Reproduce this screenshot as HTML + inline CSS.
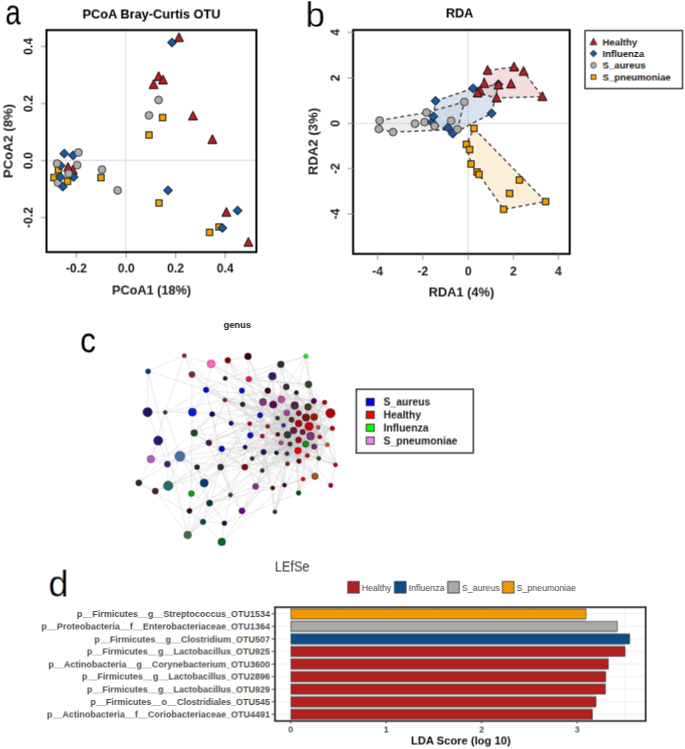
<!DOCTYPE html>
<html><head><meta charset="utf-8"><style>
html,body{margin:0;padding:0;background:#fff;}
svg{display:block;font-family:"Liberation Sans", sans-serif;}
</style></head><body>
<svg width="685" height="749" viewBox="0 0 685 749" font-family='"Liberation Sans", sans-serif'>
<g id="c" transform="translate(-0.42,-0.42)">
<rect x="-2" y="-2" width="689" height="753" fill="#fff"/>
<text transform="translate(5.3,24.25) scale(0.80,1)" font-size="34.5" fill="#000">a</text>
<text x="151.5" y="18.3" font-size="12.8" font-weight="bold" text-anchor="middle" textLength="138" lengthAdjust="spacingAndGlyphs">PCoA Bray-Curtis OTU</text>
<line x1="125.7" y1="30" x2="125.7" y2="252" stroke="#e6e6e6" stroke-width="1.3"/>
<line x1="47" y1="160.4" x2="256" y2="160.4" stroke="#d8d8d8" stroke-width="1.2"/>
<line x1="76.4" y1="252" x2="76.4" y2="258" stroke="#888" stroke-width="0.9"/>
<text x="76.4" y="272.6" font-size="12.2" font-weight="bold" text-anchor="middle" fill="#222">-0.2</text>
<line x1="126.2" y1="252" x2="126.2" y2="258" stroke="#888" stroke-width="0.9"/>
<text x="126.2" y="272.6" font-size="12.2" font-weight="bold" text-anchor="middle" fill="#222">0.0</text>
<line x1="175.6" y1="252" x2="175.6" y2="258" stroke="#888" stroke-width="0.9"/>
<text x="175.6" y="272.6" font-size="12.2" font-weight="bold" text-anchor="middle" fill="#222">0.2</text>
<line x1="225.2" y1="252" x2="225.2" y2="258" stroke="#888" stroke-width="0.9"/>
<text x="225.2" y="272.6" font-size="12.2" font-weight="bold" text-anchor="middle" fill="#222">0.4</text>
<line x1="41" y1="46.4" x2="47" y2="46.4" stroke="#888" stroke-width="0.9"/>
<text transform="translate(32.9,46.4) rotate(-90)" font-size="12.2" font-weight="bold" text-anchor="middle" fill="#222">0.4</text>
<line x1="41" y1="103.6" x2="47" y2="103.6" stroke="#888" stroke-width="0.9"/>
<text transform="translate(32.9,103.6) rotate(-90)" font-size="12.2" font-weight="bold" text-anchor="middle" fill="#222">0.2</text>
<line x1="41" y1="160.6" x2="47" y2="160.6" stroke="#888" stroke-width="0.9"/>
<text transform="translate(32.9,160.6) rotate(-90)" font-size="12.2" font-weight="bold" text-anchor="middle" fill="#222">0.0</text>
<line x1="41" y1="217.6" x2="47" y2="217.6" stroke="#888" stroke-width="0.9"/>
<text transform="translate(32.9,217.6) rotate(-90)" font-size="12.2" font-weight="bold" text-anchor="middle" fill="#222">-0.2</text>
<text x="151.5" y="294.5" font-size="12.7" font-weight="bold" text-anchor="middle" textLength="79" lengthAdjust="spacingAndGlyphs" fill="#222">PCoA1 (18%)</text>
<text transform="translate(12.2,141) rotate(-90)" font-size="12.7" font-weight="bold" text-anchor="middle" textLength="74" lengthAdjust="spacingAndGlyphs" fill="#222">PCoA2 (8%)</text>
<rect x="55.25" y="166.65" width="6.30" height="6.30" fill="#f5a300" stroke="#151515" stroke-width="1.0"/>
<polygon points="60.60,161.20 65.10,165.70 60.60,170.20 56.10,165.70" fill="#1a5aa2" stroke="#151515" stroke-width="1.0" stroke-linejoin="round"/>
<circle cx="57.10" cy="163.50" r="3.85" fill="#adadad" stroke="#3a3a3a" stroke-width="1.0"/>
<rect x="50.85" y="174.45" width="6.30" height="6.30" fill="#f5a300" stroke="#151515" stroke-width="1.0"/>
<circle cx="58.00" cy="182.70" r="3.85" fill="#adadad" stroke="#3a3a3a" stroke-width="1.0"/>
<polygon points="60.20,172.50 64.70,177.00 60.20,181.50 55.70,177.00" fill="#1a5aa2" stroke="#151515" stroke-width="1.0" stroke-linejoin="round"/>
<polygon points="68.35,174.05 77.25,174.05 72.80,165.20" fill="#bb2025" stroke="#151515" stroke-width="1.0" stroke-linejoin="round"/>
<polygon points="63.55,171.25 72.45,171.25 68.00,162.40" fill="#bb2025" stroke="#151515" stroke-width="1.0" stroke-linejoin="round"/>
<polygon points="73.70,172.50 78.20,177.00 73.70,181.50 69.20,177.00" fill="#1a5aa2" stroke="#151515" stroke-width="1.0" stroke-linejoin="round"/>
<circle cx="68.70" cy="173.60" r="3.85" fill="#adadad" stroke="#3a3a3a" stroke-width="1.0"/>
<circle cx="77.20" cy="165.10" r="3.85" fill="#adadad" stroke="#3a3a3a" stroke-width="1.0"/>
<rect x="64.35" y="178.25" width="6.30" height="6.30" fill="#f5a300" stroke="#151515" stroke-width="1.0"/>
<polygon points="62.80,182.20 67.30,186.70 62.80,191.20 58.30,186.70" fill="#1a5aa2" stroke="#151515" stroke-width="1.0" stroke-linejoin="round"/>
<polygon points="64.30,149.10 68.80,153.60 64.30,158.10 59.80,153.60" fill="#1a5aa2" stroke="#151515" stroke-width="1.0" stroke-linejoin="round"/>
<polygon points="73.10,150.90 77.60,155.40 73.10,159.90 68.60,155.40" fill="#1a5aa2" stroke="#151515" stroke-width="1.0" stroke-linejoin="round"/>
<circle cx="78.40" cy="152.50" r="3.85" fill="#adadad" stroke="#3a3a3a" stroke-width="1.0"/>
<circle cx="102.00" cy="169.60" r="3.85" fill="#adadad" stroke="#3a3a3a" stroke-width="1.0"/>
<rect x="97.85" y="174.45" width="6.30" height="6.30" fill="#f5a300" stroke="#151515" stroke-width="1.0"/>
<circle cx="117.60" cy="190.40" r="3.85" fill="#adadad" stroke="#3a3a3a" stroke-width="1.0"/>
<polygon points="149.15,88.55 158.05,88.55 153.60,79.70" fill="#bb2025" stroke="#151515" stroke-width="1.0" stroke-linejoin="round"/>
<polygon points="154.15,80.55 163.05,80.55 158.60,71.70" fill="#bb2025" stroke="#151515" stroke-width="1.0" stroke-linejoin="round"/>
<polygon points="158.55,83.95 167.45,83.95 163.00,75.10" fill="#bb2025" stroke="#151515" stroke-width="1.0" stroke-linejoin="round"/>
<circle cx="158.60" cy="100.00" r="3.85" fill="#adadad" stroke="#3a3a3a" stroke-width="1.0"/>
<circle cx="149.00" cy="115.40" r="3.85" fill="#adadad" stroke="#3a3a3a" stroke-width="1.0"/>
<rect x="159.45" y="114.45" width="6.30" height="6.30" fill="#f5a300" stroke="#151515" stroke-width="1.0"/>
<polygon points="188.55,119.95 197.45,119.95 193.00,111.10" fill="#bb2025" stroke="#151515" stroke-width="1.0" stroke-linejoin="round"/>
<rect x="145.85" y="131.85" width="6.30" height="6.30" fill="#f5a300" stroke="#151515" stroke-width="1.0"/>
<polygon points="207.95,143.55 216.85,143.55 212.40,134.70" fill="#bb2025" stroke="#151515" stroke-width="1.0" stroke-linejoin="round"/>
<polygon points="172.00,38.10 176.50,42.60 172.00,47.10 167.50,42.60" fill="#1a5aa2" stroke="#151515" stroke-width="1.0" stroke-linejoin="round"/>
<polygon points="174.55,41.55 183.45,41.55 179.00,32.70" fill="#bb2025" stroke="#151515" stroke-width="1.0" stroke-linejoin="round"/>
<polygon points="168.00,185.90 172.50,190.40 168.00,194.90 163.50,190.40" fill="#1a5aa2" stroke="#151515" stroke-width="1.0" stroke-linejoin="round"/>
<rect x="155.85" y="199.85" width="6.30" height="6.30" fill="#f5a300" stroke="#151515" stroke-width="1.0"/>
<polygon points="221.95,216.35 230.85,216.35 226.40,207.50" fill="#bb2025" stroke="#151515" stroke-width="1.0" stroke-linejoin="round"/>
<polygon points="237.60,206.10 242.10,210.60 237.60,215.10 233.10,210.60" fill="#1a5aa2" stroke="#151515" stroke-width="1.0" stroke-linejoin="round"/>
<rect x="215.85" y="223.85" width="6.30" height="6.30" fill="#f5a300" stroke="#151515" stroke-width="1.0"/>
<polygon points="222.40,223.50 226.90,228.00 222.40,232.50 217.90,228.00" fill="#1a5aa2" stroke="#151515" stroke-width="1.0" stroke-linejoin="round"/>
<rect x="206.45" y="229.25" width="6.30" height="6.30" fill="#f5a300" stroke="#151515" stroke-width="1.0"/>
<polygon points="243.95,246.35 252.85,246.35 248.40,237.50" fill="#bb2025" stroke="#151515" stroke-width="1.0" stroke-linejoin="round"/>
<rect x="46.5" y="30.1" width="209.9" height="222" fill="none" stroke="#000" stroke-width="2"/>
<text x="305.5" y="27" font-size="35" fill="#000" stroke="#fff" stroke-width="0.3">b</text>
<text x="459.6" y="17.6" font-size="12.8" font-weight="bold" text-anchor="middle" textLength="27.5" lengthAdjust="spacingAndGlyphs">RDA</text>
<polygon points="379.6,120.5 426.5,112.5 464.3,102 457.5,129.3 393,132.1 378.8,129" fill="#d0d0d0" fill-opacity="0.35" stroke="none"/>
<polygon points="435.5,100.9 473,88.4 498.4,84.4 491.6,113.4 452.7,133.7 431.8,122.1 433.4,116.5" fill="#a9c1d9" fill-opacity="0.45" stroke="none"/>
<polygon points="487.6,70.4 514,67 523.6,71.4 542.4,96.6 496.6,98 477.6,93" fill="#e4b4b4" fill-opacity="0.45" stroke="none"/>
<polygon points="474,128.4 545.6,201.6 503.6,209.4 479,174.4 471,164 466.4,144.4" fill="#f8dcaa" fill-opacity="0.45" stroke="none"/>
<line x1="468.2" y1="30" x2="468.2" y2="253.5" stroke="#999" stroke-width="0.8" stroke-dasharray="1,1.2"/>
<line x1="353.5" y1="123.5" x2="570" y2="123.5" stroke="#999" stroke-width="0.8" stroke-dasharray="1,1.2"/>
<polyline points="379.6,120.5 426.5,112.5 464.3,102 457.5,129.3 393,132.1 378.8,129 379.6,120.5" fill="none" stroke="#3a3a3a" stroke-width="1.3" stroke-dasharray="4,3"/>
<polyline points="435.5,100.9 473,88.4 498.4,84.4 491.6,113.4 452.7,133.7 431.8,122.1 433.4,116.5 435.5,100.9" fill="none" stroke="#3a3a3a" stroke-width="1.3" stroke-dasharray="4,3"/>
<polyline points="487.6,70.4 514,67 523.6,71.4 542.4,96.6 496.6,98 477.6,93 487.6,70.4" fill="none" stroke="#3a3a3a" stroke-width="1.3" stroke-dasharray="4,3"/>
<polyline points="474,128.4 545.6,201.6 503.6,209.4 479,174.4 471,164 466.4,144.4 474,128.4" fill="none" stroke="#3a3a3a" stroke-width="1.3" stroke-dasharray="4,3"/>
<circle cx="379.60" cy="120.50" r="3.85" fill="#adadad" stroke="#3a3a3a" stroke-width="1.0"/>
<circle cx="378.80" cy="129.00" r="3.85" fill="#adadad" stroke="#3a3a3a" stroke-width="1.0"/>
<circle cx="393.00" cy="132.10" r="3.85" fill="#adadad" stroke="#3a3a3a" stroke-width="1.0"/>
<circle cx="415.00" cy="123.70" r="3.85" fill="#adadad" stroke="#3a3a3a" stroke-width="1.0"/>
<circle cx="424.60" cy="122.10" r="3.85" fill="#adadad" stroke="#3a3a3a" stroke-width="1.0"/>
<circle cx="426.50" cy="112.50" r="3.85" fill="#adadad" stroke="#3a3a3a" stroke-width="1.0"/>
<polygon points="431.80,117.60 436.30,122.10 431.80,126.60 427.30,122.10" fill="#1a5aa2" stroke="#151515" stroke-width="1.0" stroke-linejoin="round"/>
<polygon points="433.40,112.00 437.90,116.50 433.40,121.00 428.90,116.50" fill="#1a5aa2" stroke="#151515" stroke-width="1.0" stroke-linejoin="round"/>
<circle cx="434.60" cy="126.10" r="3.85" fill="#adadad" stroke="#3a3a3a" stroke-width="1.0"/>
<polygon points="435.50,96.40 440.00,100.90 435.50,105.40 431.00,100.90" fill="#1a5aa2" stroke="#151515" stroke-width="1.0" stroke-linejoin="round"/>
<polygon points="447.90,123.20 452.40,127.70 447.90,132.20 443.40,127.70" fill="#1a5aa2" stroke="#151515" stroke-width="1.0" stroke-linejoin="round"/>
<polygon points="452.70,129.20 457.20,133.70 452.70,138.20 448.20,133.70" fill="#1a5aa2" stroke="#151515" stroke-width="1.0" stroke-linejoin="round"/>
<circle cx="451.10" cy="120.80" r="3.85" fill="#adadad" stroke="#3a3a3a" stroke-width="1.0"/>
<circle cx="457.50" cy="129.30" r="3.85" fill="#adadad" stroke="#3a3a3a" stroke-width="1.0"/>
<circle cx="464.30" cy="102.00" r="3.85" fill="#adadad" stroke="#3a3a3a" stroke-width="1.0"/>
<polygon points="473.00,83.90 477.50,88.40 473.00,92.90 468.50,88.40" fill="#1a5aa2" stroke="#151515" stroke-width="1.0" stroke-linejoin="round"/>
<polygon points="491.60,108.90 496.10,113.40 491.60,117.90 487.10,113.40" fill="#1a5aa2" stroke="#151515" stroke-width="1.0" stroke-linejoin="round"/>
<polygon points="498.40,79.90 502.90,84.40 498.40,88.90 493.90,84.40" fill="#1a5aa2" stroke="#151515" stroke-width="1.0" stroke-linejoin="round"/>
<polygon points="483.15,74.35 492.05,74.35 487.60,65.50" fill="#bb2025" stroke="#151515" stroke-width="1.0" stroke-linejoin="round"/>
<polygon points="509.55,70.95 518.45,70.95 514.00,62.10" fill="#bb2025" stroke="#151515" stroke-width="1.0" stroke-linejoin="round"/>
<polygon points="519.15,75.35 528.05,75.35 523.60,66.50" fill="#bb2025" stroke="#151515" stroke-width="1.0" stroke-linejoin="round"/>
<polygon points="479.95,87.55 488.85,87.55 484.40,78.70" fill="#bb2025" stroke="#151515" stroke-width="1.0" stroke-linejoin="round"/>
<polygon points="493.95,88.95 502.85,88.95 498.40,80.10" fill="#bb2025" stroke="#151515" stroke-width="1.0" stroke-linejoin="round"/>
<polygon points="506.55,87.95 515.45,87.95 511.00,79.10" fill="#bb2025" stroke="#151515" stroke-width="1.0" stroke-linejoin="round"/>
<polygon points="475.55,94.95 484.45,94.95 480.00,86.10" fill="#bb2025" stroke="#151515" stroke-width="1.0" stroke-linejoin="round"/>
<polygon points="473.15,96.95 482.05,96.95 477.60,88.10" fill="#bb2025" stroke="#151515" stroke-width="1.0" stroke-linejoin="round"/>
<polygon points="492.15,101.95 501.05,101.95 496.60,93.10" fill="#bb2025" stroke="#151515" stroke-width="1.0" stroke-linejoin="round"/>
<polygon points="537.95,100.55 546.85,100.55 542.40,91.70" fill="#bb2025" stroke="#151515" stroke-width="1.0" stroke-linejoin="round"/>
<rect x="470.85" y="125.25" width="6.30" height="6.30" fill="#f5a300" stroke="#151515" stroke-width="1.0"/>
<rect x="463.25" y="141.25" width="6.30" height="6.30" fill="#f5a300" stroke="#151515" stroke-width="1.0"/>
<rect x="466.45" y="146.45" width="6.30" height="6.30" fill="#f5a300" stroke="#151515" stroke-width="1.0"/>
<rect x="467.85" y="160.85" width="6.30" height="6.30" fill="#f5a300" stroke="#151515" stroke-width="1.0"/>
<rect x="473.85" y="168.85" width="6.30" height="6.30" fill="#f5a300" stroke="#151515" stroke-width="1.0"/>
<rect x="475.85" y="171.25" width="6.30" height="6.30" fill="#f5a300" stroke="#151515" stroke-width="1.0"/>
<rect x="516.25" y="176.85" width="6.30" height="6.30" fill="#f5a300" stroke="#151515" stroke-width="1.0"/>
<rect x="506.45" y="190.25" width="6.30" height="6.30" fill="#f5a300" stroke="#151515" stroke-width="1.0"/>
<rect x="542.45" y="198.45" width="6.30" height="6.30" fill="#f5a300" stroke="#151515" stroke-width="1.0"/>
<rect x="500.45" y="206.25" width="6.30" height="6.30" fill="#f5a300" stroke="#151515" stroke-width="1.0"/>
<rect x="353.1" y="30" width="216.6" height="223.9" fill="none" stroke="#000" stroke-width="2"/>
<line x1="377.6" y1="254" x2="377.6" y2="259.6" stroke="#888" stroke-width="0.9"/>
<text x="377.6" y="275.1" font-size="12.2" font-weight="bold" text-anchor="middle" fill="#222">-4</text>
<line x1="422.8" y1="254" x2="422.8" y2="259.6" stroke="#888" stroke-width="0.9"/>
<text x="422.8" y="275.1" font-size="12.2" font-weight="bold" text-anchor="middle" fill="#222">-2</text>
<line x1="468.2" y1="254" x2="468.2" y2="259.6" stroke="#888" stroke-width="0.9"/>
<text x="468.2" y="275.1" font-size="12.2" font-weight="bold" text-anchor="middle" fill="#222">0</text>
<line x1="513.4" y1="254" x2="513.4" y2="259.6" stroke="#888" stroke-width="0.9"/>
<text x="513.4" y="275.1" font-size="12.2" font-weight="bold" text-anchor="middle" fill="#222">2</text>
<line x1="558.4" y1="254" x2="558.4" y2="259.6" stroke="#888" stroke-width="0.9"/>
<text x="558.4" y="275.1" font-size="12.2" font-weight="bold" text-anchor="middle" fill="#222">4</text>
<line x1="347.5" y1="32.4" x2="353.5" y2="32.4" stroke="#888" stroke-width="0.9"/>
<text transform="translate(339.6,32.4) rotate(-90)" font-size="12.2" font-weight="bold" text-anchor="middle" fill="#222">4</text>
<line x1="347.5" y1="78" x2="353.5" y2="78" stroke="#888" stroke-width="0.9"/>
<text transform="translate(339.6,78) rotate(-90)" font-size="12.2" font-weight="bold" text-anchor="middle" fill="#222">2</text>
<line x1="347.5" y1="123.4" x2="353.5" y2="123.4" stroke="#888" stroke-width="0.9"/>
<text transform="translate(339.6,123.4) rotate(-90)" font-size="12.2" font-weight="bold" text-anchor="middle" fill="#222">0</text>
<line x1="347.5" y1="168.6" x2="353.5" y2="168.6" stroke="#888" stroke-width="0.9"/>
<text transform="translate(339.6,168.6) rotate(-90)" font-size="12.2" font-weight="bold" text-anchor="middle" fill="#222">-2</text>
<line x1="347.5" y1="214" x2="353.5" y2="214" stroke="#888" stroke-width="0.9"/>
<text transform="translate(339.6,214) rotate(-90)" font-size="12.2" font-weight="bold" text-anchor="middle" fill="#222">-4</text>
<text x="461.4" y="296.6" font-size="12.9" font-weight="bold" text-anchor="middle" textLength="65.7" lengthAdjust="spacingAndGlyphs" fill="#222">RDA1 (4%)</text>
<text transform="translate(317.8,141.5) rotate(-90)" font-size="13.6" font-weight="bold" text-anchor="middle" textLength="67.3" lengthAdjust="spacingAndGlyphs" fill="#222">RDA2 (3%)</text>
<rect x="585" y="30.6" width="97.5" height="58" fill="#fff" stroke="#333" stroke-width="1.4"/>
<polygon points="590.16,44.76 596.84,44.76 593.50,38.12" fill="#bb2025" stroke="#151515" stroke-width="0.7" stroke-linejoin="round"/>
<text x="602.5" y="45.30" font-size="9.6" font-weight="bold" fill="#222">Healthy</text>
<polygon points="593.50,50.17 596.88,53.55 593.50,56.92 590.12,53.55" fill="#1a5aa2" stroke="#151515" stroke-width="0.7" stroke-linejoin="round"/>
<text x="602.5" y="57.05" font-size="9.6" font-weight="bold" fill="#222">Influenza</text>
<circle cx="593.50" cy="65.30" r="2.89" fill="#adadad" stroke="#3a3a3a" stroke-width="0.7"/>
<text x="602.5" y="68.80" font-size="9.6" font-weight="bold" fill="#222">S_aureus</text>
<rect x="591.14" y="74.69" width="4.72" height="4.72" fill="#f5a300" stroke="#151515" stroke-width="0.7"/>
<text x="602.5" y="80.55" font-size="9.6" font-weight="bold" fill="#222">S_pneumoniae</text>
<text transform="translate(80.2,352.2) scale(0.90,1)" font-size="35" fill="#000">c</text>
<text x="237.3" y="328" font-size="9.2" font-weight="bold" text-anchor="middle" textLength="27.5" lengthAdjust="spacingAndGlyphs" fill="#222">genus</text>
<path d="M184.3 355.7L148.1 371.3M184.3 355.7L211.1 363.9M184.3 355.7L192.0 374.5M184.3 355.7L224.9 400.0M184.3 355.7L165.2 412.4M148.1 371.3L206.1 389.9M148.1 371.3L147.6 412.2M148.1 371.3L187.7 535.0M211.1 363.9L227.8 360.3M211.1 363.9L225.2 378.3M211.1 363.9L206.1 389.9M211.1 363.9L298.8 413.2M211.1 363.9L306.0 417.5M227.8 360.3L225.2 378.3M227.8 360.3L248.0 356.4M227.8 360.3L248.8 379.1M227.8 360.3L241.9 390.6M227.8 360.3L287.0 453.6M227.8 360.3L307.4 455.7M192.0 374.5L206.1 389.9M192.0 374.5L224.9 400.0M192.0 374.5L191.4 493.6M192.0 374.5L241.9 390.6M192.0 374.5L307.4 455.7M225.2 378.3L165.2 412.4M225.2 378.3L192.4 412.2M225.2 378.3L305.9 356.2M225.2 378.3L308.5 384.4M225.2 378.3L277.5 418.1M225.2 378.3L281.0 442.8M225.2 378.3L231.1 423.3M206.1 389.9L224.9 400.0M206.1 389.9L192.4 412.2M206.1 389.9L212.2 414.1M206.1 389.9L313.9 401.0M206.1 389.9L291.6 419.7M206.1 389.9L267.7 426.4M224.9 400.0L212.2 414.1M224.9 400.0L208.9 442.8M224.9 400.0L242.6 404.4M224.9 400.0L281.4 399.4M224.9 400.0L286.8 412.9M224.9 400.0L277.5 418.1M224.9 400.0L309.1 426.4M224.9 400.0L298.5 440.0M224.9 400.0L307.4 455.7M224.9 400.0L255.6 486.5M147.6 412.2L165.2 412.4M147.6 412.2L158.2 440.6M165.2 412.4L192.4 412.2M165.2 412.4L150.9 459.1M165.2 412.4L179.9 456.3M165.2 412.4L286.3 386.8M192.4 412.2L212.2 414.1M192.4 412.2L194.2 433.0M192.4 412.2L242.0 510.9M212.2 414.1L194.2 433.0M212.2 414.1L220.6 467.2M212.2 414.1L138.8 482.9M212.2 414.1L273.2 404.6M212.2 414.1L314.2 417.0M212.2 414.1L281.0 442.8M212.2 414.1L314.2 446.7M212.2 414.1L231.1 423.3M212.2 414.1L230.5 495.0M194.2 433.0L208.9 442.8M194.2 433.0L241.9 390.6M194.2 433.0L273.2 404.6M194.2 433.0L314.2 446.7M194.2 433.0L244.8 467.2M194.2 433.0L272.7 488.0M158.2 440.6L150.9 459.1M158.2 440.6L167.4 464.2M208.9 442.8L221.8 448.8M208.9 442.8L294.7 405.5M208.9 442.8L327.4 444.8M221.8 448.8L220.6 467.2M221.8 448.8L191.4 493.6M221.8 448.8L260.1 415.2M221.8 448.8L287.0 453.6M221.8 448.8L315.0 476.3M221.8 448.8L245.1 447.1M221.8 448.8L244.8 467.2M150.9 459.1L167.4 464.2M150.9 459.1L138.8 482.9M150.9 459.1L298.8 413.2M150.9 459.1L244.8 467.2M179.9 456.3L167.4 464.2M179.9 456.3L197.1 467.1M179.9 456.3L138.8 482.9M179.9 456.3L168.2 485.8M179.9 456.3L224.4 523.3M179.9 456.3L296.4 392.6M179.9 456.3L294.7 405.5M179.9 456.3L245.1 447.1M179.9 456.3L230.5 495.0M167.4 464.2L168.2 485.8M167.4 464.2L191.4 493.6M167.4 464.2L281.0 442.8M197.1 467.1L168.2 485.8M197.1 467.1L204.2 483.0M197.1 467.1L209.6 503.1M197.1 467.1L277.5 418.1M220.6 467.2L204.2 483.0M220.6 467.2L209.6 503.1M220.6 467.2L187.7 535.0M220.6 467.2L280.8 364.4M220.6 467.2L319.8 436.9M220.6 467.2L318.8 458.4M220.6 467.2L262.3 436.1M220.6 467.2L230.5 495.0M138.8 482.9L155.3 491.1M138.8 482.9L203.0 521.9M168.2 485.8L155.3 491.1M168.2 485.8L306.0 417.5M168.2 485.8L244.8 467.2M204.2 483.0L191.4 493.6M204.2 483.0L298.8 413.2M155.3 491.1L187.7 535.0M155.3 491.1L309.1 426.4M191.4 493.6L209.6 503.1M191.4 493.6L189.5 510.9M209.6 503.1L203.0 521.9M209.6 503.1L187.7 535.0M209.6 503.1L277.8 434.3M209.6 503.1L230.5 495.0M209.6 503.1L272.7 488.0M189.5 510.9L203.0 521.9M189.5 510.9L187.7 535.0M189.5 510.9L287.0 453.6M189.5 510.9L249.7 423.7M189.5 510.9L255.6 486.5M203.0 521.9L224.4 523.3M203.0 521.9L187.7 535.0M203.0 521.9L221.8 541.9M203.0 521.9L302.7 432.0M224.4 523.3L221.8 541.9M224.4 523.3L298.6 493.0M224.4 523.3L230.5 495.0M224.4 523.3L242.0 510.9M187.7 535.0L293.6 430.5M187.7 535.0L252.2 458.6M187.7 535.0L255.6 486.5M221.8 541.9L298.5 440.0M221.8 541.9L284.5 485.1M248.0 356.4L248.8 379.1M248.0 356.4L277.8 434.3M248.0 356.4L290.0 444.0M248.8 379.1L280.8 364.4M248.8 379.1L272.4 376.2M248.8 379.1L241.9 390.6M248.8 379.1L267.8 390.7M248.8 379.1L286.8 412.9M248.8 379.1L260.1 415.2M248.8 379.1L308.5 384.4M248.8 379.1L314.2 417.0M280.8 364.4L272.4 376.2M280.8 364.4L286.3 386.8M280.8 364.4L305.9 356.2M280.8 364.4L313.9 401.0M280.8 364.4L330.5 413.2M280.8 364.4L293.6 430.5M280.8 364.4L281.0 442.8M280.8 364.4L327.4 444.8M272.4 376.2L267.8 390.7M272.4 376.2L286.3 386.8M272.4 376.2L277.5 418.1M272.4 376.2L306.0 417.5M272.4 376.2L319.8 436.9M272.4 376.2L276.5 452.8M241.9 390.6L242.6 404.4M241.9 390.6L324.7 402.4M241.9 390.6L277.5 418.1M241.9 390.6L307.4 455.7M241.9 390.6L249.7 423.7M267.8 390.7L263.0 402.0M267.8 390.7L273.2 404.6M267.8 390.7L286.8 412.9M267.8 390.7L313.9 401.0M267.8 390.7L306.0 417.5M267.8 390.7L298.5 440.0M267.8 390.7L249.7 423.7M267.8 390.7L230.5 495.0M286.3 386.8L281.4 399.4M286.3 386.8L260.1 415.2M286.3 386.8L296.4 392.6M286.3 386.8L308.0 407.0M286.3 386.8L332.4 428.4M286.3 386.8L307.4 455.7M286.3 386.8L287.5 463.9M242.6 404.4L260.1 415.2M242.6 404.4L296.4 392.6M242.6 404.4L277.5 418.1M242.6 404.4L332.4 428.4M242.6 404.4L267.7 426.4M242.6 404.4L250.3 435.3M242.6 404.4L262.3 470.6M263.0 402.0L273.2 404.6M263.0 402.0L286.8 412.9M263.0 402.0L260.1 415.2M263.0 402.0L294.7 405.5M263.0 402.0L291.6 419.7M263.0 402.0L314.2 417.0M263.0 402.0L298.6 423.5M263.0 402.0L305.7 444.1M263.0 402.0L262.3 436.1M273.2 404.6L281.4 399.4M273.2 404.6L286.8 412.9M273.2 404.6L305.9 356.2M273.2 404.6L296.4 392.6M273.2 404.6L308.0 407.0M273.2 404.6L330.5 413.2M273.2 404.6L291.6 419.7M273.2 404.6L298.6 423.5M273.2 404.6L277.8 434.3M273.2 404.6L293.6 430.5M273.2 404.6L310.6 436.1M273.2 404.6L319.8 436.9M273.2 404.6L298.5 440.0M273.2 404.6L314.2 446.7M273.2 404.6L327.4 444.8M273.2 404.6L276.5 452.8M273.2 404.6L287.0 453.6M273.2 404.6L250.3 435.3M281.4 399.4L313.9 401.0M281.4 399.4L298.8 413.2M281.4 399.4L306.0 417.5M281.4 399.4L283.5 425.4M281.4 399.4L298.6 423.5M281.4 399.4L318.3 427.3M281.4 399.4L314.2 446.7M281.4 399.4L299.0 461.2M281.4 399.4L335.5 464.8M281.4 399.4L267.7 426.4M286.8 412.9L294.7 405.5M286.8 412.9L313.9 401.0M286.8 412.9L298.8 413.2M286.8 412.9L277.5 418.1M286.8 412.9L291.6 419.7M286.8 412.9L306.0 417.5M286.8 412.9L283.5 425.4M286.8 412.9L309.1 426.4M286.8 412.9L332.4 428.4M286.8 412.9L277.8 434.3M286.8 412.9L293.6 430.5M286.8 412.9L310.6 436.1M286.8 412.9L319.8 436.9M286.8 412.9L281.0 442.8M286.8 412.9L298.0 450.7M286.8 412.9L267.7 426.4M286.8 412.9L262.3 436.1M286.8 412.9L284.5 485.1M260.1 415.2L296.4 392.6M260.1 415.2L324.7 402.4M260.1 415.2L277.5 418.1M260.1 415.2L299.0 461.2M260.1 415.2L249.7 423.7M260.1 415.2L267.7 426.4M260.1 415.2L262.3 436.1M305.9 356.2L308.5 384.4M305.9 356.2L296.4 392.6M305.9 356.2L318.3 427.3M308.5 384.4L296.4 392.6M308.5 384.4L313.9 401.0M308.5 384.4L330.5 413.2M308.5 384.4L310.6 436.1M308.5 384.4L318.8 458.4M308.5 384.4L335.5 464.8M296.4 392.6L294.7 405.5M296.4 392.6L313.9 401.0M296.4 392.6L308.0 407.0M296.4 392.6L298.8 413.2M296.4 392.6L277.5 418.1M296.4 392.6L283.5 425.4M296.4 392.6L318.3 427.3M296.4 392.6L302.7 432.0M296.4 392.6L319.8 436.9M296.4 392.6L290.0 444.0M296.4 392.6L287.0 453.6M296.4 392.6L307.4 455.7M296.4 392.6L318.8 458.4M296.4 392.6L255.6 486.5M294.7 405.5L313.9 401.0M294.7 405.5L330.5 413.2M294.7 405.5L298.8 413.2M294.7 405.5L277.5 418.1M294.7 405.5L291.6 419.7M294.7 405.5L283.5 425.4M294.7 405.5L298.6 423.5M294.7 405.5L309.1 426.4M294.7 405.5L318.3 427.3M294.7 405.5L281.0 442.8M294.7 405.5L290.0 444.0M294.7 405.5L314.2 446.7M294.7 405.5L327.4 444.8M294.7 405.5L276.5 452.8M294.7 405.5L298.6 493.0M294.7 405.5L267.7 426.4M294.7 405.5L250.3 435.3M294.7 405.5L252.2 458.6M313.9 401.0L324.7 402.4M313.9 401.0L308.0 407.0M313.9 401.0L298.8 413.2M313.9 401.0L277.5 418.1M313.9 401.0L306.0 417.5M313.9 401.0L314.2 417.0M313.9 401.0L277.8 434.3M313.9 401.0L293.6 430.5M313.9 401.0L310.6 436.1M313.9 401.0L290.0 444.0M313.9 401.0L327.4 444.8M313.9 401.0L298.0 450.7M313.9 401.0L307.4 455.7M313.9 401.0L299.0 461.2M313.9 401.0L298.6 493.0M313.9 401.0L250.3 435.3M313.9 401.0L262.3 436.1M313.9 401.0L242.0 510.9M324.7 402.4L308.0 407.0M324.7 402.4L330.5 413.2M324.7 402.4L277.5 418.1M324.7 402.4L306.0 417.5M324.7 402.4L314.2 417.0M324.7 402.4L283.5 425.4M324.7 402.4L332.4 428.4M324.7 402.4L290.0 444.0M324.7 402.4L298.5 440.0M324.7 402.4L314.2 446.7M324.7 402.4L276.5 452.8M324.7 402.4L298.0 450.7M324.7 402.4L287.5 463.9M324.7 402.4L267.7 426.4M324.7 402.4L242.0 510.9M308.0 407.0L330.5 413.2M308.0 407.0L306.0 417.5M308.0 407.0L314.2 417.0M308.0 407.0L302.7 432.0M308.0 407.0L298.5 440.0M308.0 407.0L276.5 452.8M308.0 407.0L287.0 453.6M308.0 407.0L298.0 450.7M308.0 407.0L307.4 455.7M308.0 407.0L318.8 458.4M308.0 407.0L267.7 426.4M308.0 407.0L262.3 436.1M330.5 413.2L298.8 413.2M330.5 413.2L291.6 419.7M330.5 413.2L283.5 425.4M330.5 413.2L332.4 428.4M330.5 413.2L310.6 436.1M330.5 413.2L319.8 436.9M330.5 413.2L281.0 442.8M330.5 413.2L298.5 440.0M330.5 413.2L305.7 444.1M330.5 413.2L276.5 452.8M330.5 413.2L287.5 463.9M330.5 413.2L315.0 476.3M330.5 413.2L262.3 470.6M298.8 413.2L277.5 418.1M298.8 413.2L306.0 417.5M298.8 413.2L314.2 417.0M298.8 413.2L283.5 425.4M298.8 413.2L298.6 423.5M298.8 413.2L318.3 427.3M298.8 413.2L277.8 434.3M298.8 413.2L293.6 430.5M298.8 413.2L310.6 436.1M298.8 413.2L281.0 442.8M298.8 413.2L314.2 446.7M298.8 413.2L327.4 444.8M298.8 413.2L276.5 452.8M298.8 413.2L298.0 450.7M298.8 413.2L287.5 463.9M298.8 413.2L267.7 426.4M298.8 413.2L250.3 435.3M277.5 418.1L306.0 417.5M277.5 418.1L314.2 417.0M277.5 418.1L283.5 425.4M277.5 418.1L298.6 423.5M277.5 418.1L309.1 426.4M277.5 418.1L318.3 427.3M277.5 418.1L277.8 434.3M277.5 418.1L293.6 430.5M277.5 418.1L310.6 436.1M277.5 418.1L290.0 444.0M277.5 418.1L298.5 440.0M277.5 418.1L314.2 446.7M277.5 418.1L287.0 453.6M277.5 418.1L298.0 450.7M277.5 418.1L318.8 458.4M277.5 418.1L299.0 461.2M277.5 418.1L315.0 476.3M277.5 418.1L249.7 423.7M277.5 418.1L267.7 426.4M291.6 419.7L306.0 417.5M291.6 419.7L283.5 425.4M291.6 419.7L298.6 423.5M291.6 419.7L309.1 426.4M291.6 419.7L318.3 427.3M291.6 419.7L332.4 428.4M291.6 419.7L277.8 434.3M291.6 419.7L293.6 430.5M291.6 419.7L302.7 432.0M291.6 419.7L281.0 442.8M291.6 419.7L290.0 444.0M291.6 419.7L314.2 446.7M291.6 419.7L298.0 450.7M291.6 419.7L287.5 463.9M291.6 419.7L267.7 426.4M291.6 419.7L245.1 447.1M291.6 419.7L252.2 458.6M306.0 417.5L314.2 417.0M306.0 417.5L298.6 423.5M306.0 417.5L309.1 426.4M306.0 417.5L318.3 427.3M306.0 417.5L302.7 432.0M306.0 417.5L319.8 436.9M306.0 417.5L298.5 440.0M306.0 417.5L314.2 446.7M306.0 417.5L327.4 444.8M306.0 417.5L276.5 452.8M306.0 417.5L298.0 450.7M306.0 417.5L307.4 455.7M306.0 417.5L318.8 458.4M306.0 417.5L287.5 463.9M306.0 417.5L267.7 426.4M306.0 417.5L262.3 470.6M314.2 417.0L309.1 426.4M314.2 417.0L318.3 427.3M314.2 417.0L287.5 434.8M314.2 417.0L302.7 432.0M314.2 417.0L310.6 436.1M314.2 417.0L319.8 436.9M314.2 417.0L281.0 442.8M314.2 417.0L305.7 444.1M314.2 417.0L307.4 455.7M314.2 417.0L318.8 458.4M314.2 417.0L267.7 426.4M314.2 417.0L274.9 511.8M283.5 425.4L298.6 423.5M283.5 425.4L277.8 434.3M283.5 425.4L302.7 432.0M283.5 425.4L310.6 436.1M283.5 425.4L281.0 442.8M283.5 425.4L290.0 444.0M283.5 425.4L314.2 446.7M283.5 425.4L276.5 452.8M283.5 425.4L307.4 455.7M283.5 425.4L318.8 458.4M283.5 425.4L299.0 461.2M283.5 425.4L287.5 463.9M283.5 425.4L335.5 464.8M283.5 425.4L263.6 452.0M283.5 425.4L244.8 467.2M298.6 423.5L277.8 434.3M298.6 423.5L293.6 430.5M298.6 423.5L302.7 432.0M298.6 423.5L305.7 444.1M298.6 423.5L314.2 446.7M298.6 423.5L287.0 453.6M298.6 423.5L298.0 450.7M298.6 423.5L307.4 455.7M298.6 423.5L318.8 458.4M298.6 423.5L287.5 463.9M298.6 423.5L298.6 493.0M298.6 423.5L255.6 486.5M309.1 426.4L318.3 427.3M309.1 426.4L287.5 434.8M309.1 426.4L293.6 430.5M309.1 426.4L302.7 432.0M309.1 426.4L319.8 436.9M309.1 426.4L281.0 442.8M309.1 426.4L290.0 444.0M309.1 426.4L305.7 444.1M309.1 426.4L327.4 444.8M309.1 426.4L298.0 450.7M309.1 426.4L318.8 458.4M309.1 426.4L303.1 479.2M309.1 426.4L255.6 486.5M318.3 427.3L332.4 428.4M318.3 427.3L287.5 434.8M318.3 427.3L293.6 430.5M318.3 427.3L310.6 436.1M318.3 427.3L319.8 436.9M318.3 427.3L281.0 442.8M318.3 427.3L276.5 452.8M318.3 427.3L287.0 453.6M318.3 427.3L307.4 455.7M318.3 427.3L299.0 461.2M318.3 427.3L287.5 463.9M318.3 427.3L262.3 470.6M332.4 428.4L302.7 432.0M332.4 428.4L310.6 436.1M332.4 428.4L319.8 436.9M332.4 428.4L298.5 440.0M332.4 428.4L327.4 444.8M332.4 428.4L276.5 452.8M332.4 428.4L307.4 455.7M332.4 428.4L287.5 463.9M332.4 428.4L335.5 464.8M332.4 428.4L250.3 435.3M277.8 434.3L287.5 434.8M277.8 434.3L293.6 430.5M277.8 434.3L302.7 432.0M277.8 434.3L319.8 436.9M277.8 434.3L281.0 442.8M277.8 434.3L287.0 453.6M277.8 434.3L298.0 450.7M277.8 434.3L299.0 461.2M277.8 434.3L287.5 463.9M277.8 434.3L315.0 476.3M277.8 434.3L267.7 426.4M277.8 434.3L250.3 435.3M277.8 434.3L263.6 452.0M277.8 434.3L242.0 510.9M287.5 434.8L293.6 430.5M287.5 434.8L319.8 436.9M287.5 434.8L290.0 444.0M287.5 434.8L298.5 440.0M287.5 434.8L305.7 444.1M287.5 434.8L314.2 446.7M287.5 434.8L327.4 444.8M287.5 434.8L276.5 452.8M287.5 434.8L287.0 453.6M287.5 434.8L298.0 450.7M287.5 434.8L252.2 458.6M293.6 430.5L290.0 444.0M293.6 430.5L314.2 446.7M293.6 430.5L327.4 444.8M293.6 430.5L307.4 455.7M293.6 430.5L318.8 458.4M293.6 430.5L299.0 461.2M293.6 430.5L287.5 463.9M293.6 430.5L315.0 476.3M293.6 430.5L298.6 493.0M293.6 430.5L231.1 423.3M293.6 430.5L267.7 426.4M302.7 432.0L310.6 436.1M302.7 432.0L290.0 444.0M302.7 432.0L298.5 440.0M302.7 432.0L305.7 444.1M302.7 432.0L276.5 452.8M302.7 432.0L287.0 453.6M302.7 432.0L298.0 450.7M302.7 432.0L299.0 461.2M302.7 432.0L335.5 464.8M310.6 436.1L319.8 436.9M310.6 436.1L281.0 442.8M310.6 436.1L298.5 440.0M310.6 436.1L305.7 444.1M310.6 436.1L314.2 446.7M310.6 436.1L276.5 452.8M310.6 436.1L299.0 461.2M310.6 436.1L249.7 423.7M319.8 436.9L298.5 440.0M319.8 436.9L305.7 444.1M319.8 436.9L314.2 446.7M319.8 436.9L327.4 444.8M319.8 436.9L298.0 450.7M319.8 436.9L307.4 455.7M319.8 436.9L299.0 461.2M319.8 436.9L267.7 426.4M319.8 436.9L245.1 447.1M319.8 436.9L262.3 470.6M281.0 442.8L290.0 444.0M281.0 442.8L305.7 444.1M281.0 442.8L314.2 446.7M281.0 442.8L327.4 444.8M281.0 442.8L276.5 452.8M281.0 442.8L298.0 450.7M281.0 442.8L307.4 455.7M281.0 442.8L318.8 458.4M281.0 442.8L299.0 461.2M281.0 442.8L287.5 463.9M281.0 442.8L262.3 436.1M281.0 442.8L263.6 452.0M281.0 442.8L252.2 458.6M281.0 442.8L244.8 467.2M290.0 444.0L298.5 440.0M290.0 444.0L305.7 444.1M290.0 444.0L276.5 452.8M290.0 444.0L287.0 453.6M290.0 444.0L298.0 450.7M290.0 444.0L307.4 455.7M290.0 444.0L287.5 463.9M290.0 444.0L267.7 426.4M290.0 444.0L272.7 488.0M290.0 444.0L274.9 511.8M298.5 440.0L305.7 444.1M298.5 440.0L314.2 446.7M298.5 440.0L276.5 452.8M298.5 440.0L298.0 450.7M298.5 440.0L307.4 455.7M298.5 440.0L267.7 426.4M298.5 440.0L255.6 486.5M298.5 440.0L272.7 488.0M305.7 444.1L314.2 446.7M305.7 444.1L327.4 444.8M305.7 444.1L298.0 450.7M305.7 444.1L287.5 463.9M305.7 444.1L249.7 423.7M305.7 444.1L263.6 452.0M305.7 444.1L252.2 458.6M305.7 444.1L262.3 470.6M314.2 446.7L327.4 444.8M314.2 446.7L287.0 453.6M314.2 446.7L307.4 455.7M314.2 446.7L318.8 458.4M314.2 446.7L299.0 461.2M314.2 446.7L287.5 463.9M314.2 446.7L250.3 435.3M314.2 446.7L263.6 452.0M327.4 444.8L307.4 455.7M327.4 444.8L318.8 458.4M327.4 444.8L299.0 461.2M327.4 444.8L335.5 464.8M327.4 444.8L298.6 493.0M276.5 452.8L287.0 453.6M276.5 452.8L318.8 458.4M276.5 452.8L287.5 463.9M276.5 452.8L249.7 423.7M276.5 452.8L262.3 436.1M276.5 452.8L263.6 452.0M276.5 452.8L284.5 485.1M287.0 453.6L307.4 455.7M287.0 453.6L299.0 461.2M287.0 453.6L287.5 463.9M287.0 453.6L315.0 476.3M287.0 453.6L267.7 426.4M298.0 450.7L307.4 455.7M298.0 450.7L318.8 458.4M298.0 450.7L299.0 461.2M298.0 450.7L287.5 463.9M298.0 450.7L250.3 435.3M298.0 450.7L245.1 447.1M298.0 450.7L244.8 467.2M307.4 455.7L318.8 458.4M307.4 455.7L299.0 461.2M307.4 455.7L287.5 463.9M307.4 455.7L335.5 464.8M307.4 455.7L330.7 485.4M307.4 455.7L267.7 426.4M307.4 455.7L284.5 485.1M318.8 458.4L335.5 464.8M299.0 461.2L287.5 463.9M299.0 461.2L315.0 476.3M299.0 461.2L267.7 426.4M299.0 461.2L262.3 436.1M287.5 463.9L249.7 423.7M287.5 463.9L267.7 426.4M287.5 463.9L263.6 452.0M287.5 463.9L242.0 510.9M287.5 463.9L274.9 511.8M335.5 464.8L330.7 485.4M335.5 464.8L231.1 423.3M335.5 464.8L245.1 447.1M315.0 476.3L303.1 479.2M315.0 476.3L330.7 485.4M315.0 476.3L298.6 493.0M315.0 476.3L284.5 485.1M303.1 479.2L298.6 493.0M303.1 479.2L272.7 488.0M303.1 479.2L284.5 485.1M298.6 493.0L284.5 485.1M231.1 423.3L249.7 423.7M231.1 423.3L267.7 426.4M231.1 423.3L250.3 435.3M231.1 423.3L244.8 467.2M249.7 423.7L250.3 435.3M249.7 423.7L245.1 447.1M249.7 423.7L252.2 458.6M267.7 426.4L262.3 436.1M267.7 426.4L262.3 470.6M250.3 435.3L262.3 436.1M250.3 435.3L245.1 447.1M262.3 436.1L244.8 467.2M262.3 436.1L284.5 485.1M245.1 447.1L252.2 458.6M245.1 447.1L284.5 485.1M263.6 452.0L252.2 458.6M263.6 452.0L262.3 470.6M263.6 452.0L272.7 488.0M263.6 452.0L274.9 511.8M252.2 458.6L244.8 467.2M252.2 458.6L262.3 470.6M244.8 467.2L262.3 470.6M262.3 470.6L255.6 486.5M255.6 486.5L272.7 488.0M230.5 495.0L242.0 510.9M272.7 488.0L284.5 485.1M272.7 488.0L274.9 511.8M284.5 485.1L274.9 511.8" stroke="#c8c8c8" stroke-opacity="0.5" stroke-width="0.75" fill="none"/>
<circle cx="184.3" cy="355.7" r="2.0" fill="#7a2846" stroke="#49182a" stroke-width="0.5"/>
<circle cx="148.1" cy="371.3" r="2.5" fill="#0d3a8a" stroke="#072252" stroke-width="0.5"/>
<circle cx="211.1" cy="363.9" r="4.0" fill="#ff69b4" stroke="#993f6c" stroke-width="0.5"/>
<circle cx="227.8" cy="360.3" r="2.8" fill="#8b0010" stroke="#530009" stroke-width="0.5"/>
<circle cx="192" cy="374.5" r="3.0" fill="#7a2846" stroke="#49182a" stroke-width="0.5"/>
<circle cx="225.2" cy="378.3" r="2.0" fill="#2d0a2d" stroke="#1b061b" stroke-width="0.5"/>
<circle cx="206.1" cy="389.9" r="2.7" fill="#0010c0" stroke="#000973" stroke-width="0.5"/>
<circle cx="224.9" cy="400.0" r="2.0" fill="#7a2a10" stroke="#491909" stroke-width="0.5"/>
<circle cx="147.6" cy="412.2" r="4.6" fill="#22186a" stroke="#140e3f" stroke-width="0.5"/>
<circle cx="165.2" cy="412.4" r="2.0" fill="#5a2a50" stroke="#361930" stroke-width="0.5"/>
<circle cx="192.4" cy="412.2" r="4.0" fill="#0a20d0" stroke="#06137c" stroke-width="0.5"/>
<circle cx="212.2" cy="414.1" r="2.5" fill="#0a1070" stroke="#060943" stroke-width="0.5"/>
<circle cx="194.2" cy="433" r="3.3" fill="#1f4a2a" stroke="#122c19" stroke-width="0.5"/>
<circle cx="158.2" cy="440.6" r="4.5" fill="#2a1a70" stroke="#190f43" stroke-width="0.5"/>
<circle cx="208.9" cy="442.8" r="2.8" fill="#4a1a50" stroke="#2c0f30" stroke-width="0.5"/>
<circle cx="221.8" cy="448.8" r="2.8" fill="#0a10c0" stroke="#060973" stroke-width="0.5"/>
<circle cx="150.9" cy="459.1" r="3.8" fill="#b060c0" stroke="#693973" stroke-width="0.5"/>
<circle cx="179.9" cy="456.3" r="5.0" fill="#4a70a0" stroke="#2c4360" stroke-width="0.5"/>
<circle cx="167.4" cy="464.2" r="3.0" fill="#4a2060" stroke="#2c1339" stroke-width="0.5"/>
<circle cx="197.1" cy="467.1" r="2.5" fill="#1a2a35" stroke="#0f191f" stroke-width="0.5"/>
<circle cx="220.6" cy="467.2" r="3.0" fill="#303030" stroke="#1c1c1c" stroke-width="0.5"/>
<circle cx="138.8" cy="482.9" r="3.0" fill="#2a2a2a" stroke="#191919" stroke-width="0.5"/>
<circle cx="168.2" cy="485.8" r="4.7" fill="#2a6a6a" stroke="#193f3f" stroke-width="0.5"/>
<circle cx="204.2" cy="483" r="4.0" fill="#0a3a80" stroke="#06224c" stroke-width="0.5"/>
<circle cx="155.3" cy="491.1" r="3.0" fill="#40203a" stroke="#261322" stroke-width="0.5"/>
<circle cx="191.4" cy="493.6" r="3.0" fill="#10a010" stroke="#096009" stroke-width="0.5"/>
<circle cx="209.6" cy="503.1" r="3.0" fill="#0a3a40" stroke="#062226" stroke-width="0.5"/>
<circle cx="189.5" cy="510.9" r="2.5" fill="#400808" stroke="#260404" stroke-width="0.5"/>
<circle cx="203" cy="521.9" r="2.7" fill="#0a4a50" stroke="#062c30" stroke-width="0.5"/>
<circle cx="224.4" cy="523.3" r="2.4" fill="#101a40" stroke="#090f26" stroke-width="0.5"/>
<circle cx="187.7" cy="535" r="3.8" fill="#4a6a50" stroke="#2c3f30" stroke-width="0.5"/>
<circle cx="221.8" cy="541.9" r="3.8" fill="#0a6a1a" stroke="#063f0f" stroke-width="0.5"/>
<circle cx="248" cy="356.4" r="3.3" fill="#400008" stroke="#260004" stroke-width="0.5"/>
<circle cx="248.8" cy="379.1" r="2.8" fill="#e02050" stroke="#861330" stroke-width="0.5"/>
<circle cx="280.8" cy="364.4" r="3.3" fill="#333333" stroke="#1e1e1e" stroke-width="0.5"/>
<circle cx="272.4" cy="376.2" r="3.8" fill="#3a1a6a" stroke="#220f3f" stroke-width="0.5"/>
<circle cx="241.9" cy="390.6" r="2.6" fill="#0a10c0" stroke="#060973" stroke-width="0.5"/>
<circle cx="267.8" cy="390.7" r="2.8" fill="#3a0818" stroke="#22040e" stroke-width="0.5"/>
<circle cx="286.3" cy="386.8" r="3.0" fill="#333333" stroke="#1e1e1e" stroke-width="0.5"/>
<circle cx="242.6" cy="404.4" r="2.4" fill="#2a2a2a" stroke="#191919" stroke-width="0.5"/>
<circle cx="263" cy="402" r="3.6" fill="#7a3a7a" stroke="#492249" stroke-width="0.5"/>
<circle cx="273.2" cy="404.6" r="3.6" fill="#5a0a4a" stroke="#36062c" stroke-width="0.5"/>
<circle cx="281.4" cy="399.4" r="3.5" fill="#c050a0" stroke="#733060" stroke-width="0.5"/>
<circle cx="286.8" cy="412.9" r="3.0" fill="#904a90" stroke="#562c56" stroke-width="0.5"/>
<circle cx="260.1" cy="415.2" r="2.6" fill="#0a10c0" stroke="#060973" stroke-width="0.5"/>
<circle cx="305.9" cy="356.2" r="2.2" fill="#20e020" stroke="#138613" stroke-width="0.5"/>
<circle cx="308.5" cy="384.4" r="3.4" fill="#2a4a20" stroke="#192c13" stroke-width="0.5"/>
<circle cx="296.4" cy="392.6" r="2.0" fill="#2a0a30" stroke="#19061c" stroke-width="0.5"/>
<circle cx="294.7" cy="405.5" r="3.8" fill="#4a2a4a" stroke="#2c192c" stroke-width="0.5"/>
<circle cx="313.9" cy="401" r="2.6" fill="#5a0050" stroke="#360030" stroke-width="0.5"/>
<circle cx="324.7" cy="402.4" r="2.2" fill="#b00010" stroke="#690009" stroke-width="0.5"/>
<circle cx="308" cy="407" r="3.3" fill="#4a3a1a" stroke="#2c220f" stroke-width="0.5"/>
<circle cx="330.5" cy="413.2" r="4.6" fill="#b00000" stroke="#690000" stroke-width="0.5"/>
<circle cx="298.8" cy="413.2" r="2.6" fill="#8a1030" stroke="#52091c" stroke-width="0.5"/>
<circle cx="277.5" cy="418.1" r="2.0" fill="#333333" stroke="#1e1e1e" stroke-width="0.5"/>
<circle cx="291.6" cy="419.7" r="2.6" fill="#5a2a0a" stroke="#361906" stroke-width="0.5"/>
<circle cx="306" cy="417.5" r="3.7" fill="#6a1a0a" stroke="#3f0f06" stroke-width="0.5"/>
<circle cx="314.2" cy="417" r="3.5" fill="#9a1a0a" stroke="#5c0f06" stroke-width="0.5"/>
<circle cx="283.5" cy="425.4" r="2.0" fill="#3020b0" stroke="#1c1369" stroke-width="0.5"/>
<circle cx="298.6" cy="423.5" r="3.4" fill="#b00010" stroke="#690009" stroke-width="0.5"/>
<circle cx="309.1" cy="426.4" r="4.1" fill="#c00010" stroke="#730009" stroke-width="0.5"/>
<circle cx="318.3" cy="427.3" r="2.0" fill="#c04070" stroke="#732643" stroke-width="0.5"/>
<circle cx="332.4" cy="428.4" r="2.3" fill="#c00010" stroke="#730009" stroke-width="0.5"/>
<circle cx="277.8" cy="434.3" r="2.0" fill="#600010" stroke="#390009" stroke-width="0.5"/>
<circle cx="287.5" cy="434.8" r="3.5" fill="#3a3a3a" stroke="#222222" stroke-width="0.5"/>
<circle cx="293.6" cy="430.5" r="3.3" fill="#6a1a40" stroke="#3f0f26" stroke-width="0.5"/>
<circle cx="302.7" cy="432" r="2.7" fill="#6a1a40" stroke="#3f0f26" stroke-width="0.5"/>
<circle cx="310.6" cy="436.1" r="3.9" fill="#7a3a7a" stroke="#492249" stroke-width="0.5"/>
<circle cx="319.8" cy="436.9" r="2.0" fill="#d00010" stroke="#7c0009" stroke-width="0.5"/>
<circle cx="281" cy="442.8" r="2.2" fill="#a04a90" stroke="#602c56" stroke-width="0.5"/>
<circle cx="290" cy="444" r="2.2" fill="#333333" stroke="#1e1e1e" stroke-width="0.5"/>
<circle cx="298.5" cy="440" r="3.0" fill="#9a0a20" stroke="#5c0613" stroke-width="0.5"/>
<circle cx="305.7" cy="444.1" r="3.2" fill="#1a8a20" stroke="#0f5213" stroke-width="0.5"/>
<circle cx="314.2" cy="446.7" r="2.7" fill="#6a2a6a" stroke="#3f193f" stroke-width="0.5"/>
<circle cx="327.4" cy="444.8" r="2.0" fill="#c05a10" stroke="#733609" stroke-width="0.5"/>
<circle cx="276.5" cy="452.8" r="2.0" fill="#1a2040" stroke="#0f1326" stroke-width="0.5"/>
<circle cx="287" cy="453.6" r="2.0" fill="#4a2a5a" stroke="#2c1936" stroke-width="0.5"/>
<circle cx="298" cy="450.7" r="3.3" fill="#f00000" stroke="#900000" stroke-width="0.5"/>
<circle cx="307.4" cy="455.7" r="2.0" fill="#c00010" stroke="#730009" stroke-width="0.5"/>
<circle cx="318.8" cy="458.4" r="2.0" fill="#0a5a10" stroke="#063609" stroke-width="0.5"/>
<circle cx="299" cy="461.2" r="2.3" fill="#6a0010" stroke="#3f0009" stroke-width="0.5"/>
<circle cx="287.5" cy="463.9" r="2.0" fill="#8a1a0a" stroke="#520f06" stroke-width="0.5"/>
<circle cx="335.5" cy="464.8" r="2.0" fill="#b00010" stroke="#690009" stroke-width="0.5"/>
<circle cx="315" cy="476.3" r="3.3" fill="#9a5a20" stroke="#5c3613" stroke-width="0.5"/>
<circle cx="303.1" cy="479.2" r="2.0" fill="#f00010" stroke="#900009" stroke-width="0.5"/>
<circle cx="330.7" cy="485.4" r="2.2" fill="#9a0a20" stroke="#5c0613" stroke-width="0.5"/>
<circle cx="298.6" cy="493" r="2.3" fill="#0a4a10" stroke="#062c09" stroke-width="0.5"/>
<circle cx="231.1" cy="423.3" r="2.2" fill="#1a1070" stroke="#0f0943" stroke-width="0.5"/>
<circle cx="249.7" cy="423.7" r="2.0" fill="#b00010" stroke="#690009" stroke-width="0.5"/>
<circle cx="267.7" cy="426.4" r="2.0" fill="#b02010" stroke="#691309" stroke-width="0.5"/>
<circle cx="250.3" cy="435.3" r="2.8" fill="#0a10c0" stroke="#060973" stroke-width="0.5"/>
<circle cx="262.3" cy="436.1" r="2.0" fill="#b01020" stroke="#690913" stroke-width="0.5"/>
<circle cx="245.1" cy="447.1" r="2.0" fill="#0a0a60" stroke="#060639" stroke-width="0.5"/>
<circle cx="263.6" cy="452" r="2.7" fill="#2a1a5a" stroke="#190f36" stroke-width="0.5"/>
<circle cx="252.2" cy="458.6" r="2.0" fill="#333333" stroke="#1e1e1e" stroke-width="0.5"/>
<circle cx="244.8" cy="467.2" r="3.0" fill="#8a0010" stroke="#520009" stroke-width="0.5"/>
<circle cx="262.3" cy="470.6" r="2.0" fill="#333333" stroke="#1e1e1e" stroke-width="0.5"/>
<circle cx="255.6" cy="486.5" r="3.0" fill="#7a3a80" stroke="#49224c" stroke-width="0.5"/>
<circle cx="230.5" cy="495" r="2.0" fill="#4a2a5a" stroke="#2c1936" stroke-width="0.5"/>
<circle cx="272.7" cy="488" r="2.0" fill="#3a0808" stroke="#220404" stroke-width="0.5"/>
<circle cx="284.5" cy="485.1" r="2.0" fill="#2a0a40" stroke="#190626" stroke-width="0.5"/>
<circle cx="242" cy="510.9" r="3.0" fill="#6a0a80" stroke="#3f064c" stroke-width="0.5"/>
<circle cx="274.9" cy="511.8" r="2.0" fill="#333333" stroke="#1e1e1e" stroke-width="0.5"/>
<rect x="356.3" y="389.2" width="117" height="63.8" fill="#fff" stroke="#383838" stroke-width="1.5"/>
<rect x="366.3" y="398.40" width="8" height="7.2" fill="#0000ff" stroke="#222" stroke-width="0.8"/>
<text x="383.5" y="405.70" font-size="10.4" font-weight="bold" fill="#222">S_aureus</text>
<rect x="366.3" y="411.30" width="8" height="7.2" fill="#ff0000" stroke="#222" stroke-width="0.8"/>
<text x="383.5" y="418.60" font-size="10.4" font-weight="bold" fill="#222">Healthy</text>
<rect x="366.3" y="424.20" width="8" height="7.2" fill="#00ff00" stroke="#222" stroke-width="0.8"/>
<text x="383.5" y="431.50" font-size="10.4" font-weight="bold" fill="#222">Influenza</text>
<rect x="366.3" y="437.10" width="8" height="7.2" fill="#ee82ee" stroke="#222" stroke-width="0.8"/>
<text x="383.5" y="444.40" font-size="10.4" font-weight="bold" fill="#222">S_pneumoniae</text>
<text x="48.5" y="596.8" font-size="36" fill="#000" stroke="#fff" stroke-width="0.25">d</text>
<text x="292.2" y="571.4" font-size="14.2" text-anchor="middle" textLength="34.7" lengthAdjust="spacingAndGlyphs" fill="#333">LEfSe</text>
<rect x="347.7" y="581.5" width="11.6" height="11.6" fill="#b22222" stroke="#333" stroke-width="0.8"/>
<text x="361.8" y="591" font-size="8.8" fill="#444" textLength="29.4" lengthAdjust="spacingAndGlyphs">Healthy</text>
<rect x="394.5" y="581.5" width="11.6" height="11.6" fill="#104e8b" stroke="#333" stroke-width="0.8"/>
<text x="408.6" y="591" font-size="8.8" fill="#444" textLength="36" lengthAdjust="spacingAndGlyphs">Influenza</text>
<rect x="447.7" y="581.5" width="11.6" height="11.6" fill="#a9a9a9" stroke="#333" stroke-width="0.8"/>
<text x="461.8" y="591" font-size="8.8" fill="#444" textLength="38.1" lengthAdjust="spacingAndGlyphs">S_aureus</text>
<rect x="502.4" y="581.5" width="11.6" height="11.6" fill="#ee9a00" stroke="#333" stroke-width="0.8"/>
<text x="516.5" y="591" font-size="8.8" fill="#444" textLength="59.6" lengthAdjust="spacingAndGlyphs">S_pneumoniae</text>
<line x1="290.6" y1="607" x2="290.6" y2="720.5" stroke="#ebebeb" stroke-width="0.8"/>
<line x1="386.1" y1="607" x2="386.1" y2="720.5" stroke="#ebebeb" stroke-width="0.8"/>
<line x1="481.6" y1="607" x2="481.6" y2="720.5" stroke="#ebebeb" stroke-width="0.8"/>
<line x1="577.1" y1="607" x2="577.1" y2="720.5" stroke="#ebebeb" stroke-width="0.8"/>
<line x1="338.4" y1="607" x2="338.4" y2="720.5" stroke="#ebebeb" stroke-width="0.8"/>
<line x1="433.9" y1="607" x2="433.9" y2="720.5" stroke="#ebebeb" stroke-width="0.8"/>
<line x1="529.4" y1="607" x2="529.4" y2="720.5" stroke="#ebebeb" stroke-width="0.8"/>
<line x1="624.9" y1="607" x2="624.9" y2="720.5" stroke="#ebebeb" stroke-width="0.8"/>
<line x1="275" y1="613.80" x2="646" y2="613.80" stroke="#ebebeb" stroke-width="0.8"/>
<line x1="275" y1="626.38" x2="646" y2="626.38" stroke="#ebebeb" stroke-width="0.8"/>
<line x1="275" y1="638.95" x2="646" y2="638.95" stroke="#ebebeb" stroke-width="0.8"/>
<line x1="275" y1="651.52" x2="646" y2="651.52" stroke="#ebebeb" stroke-width="0.8"/>
<line x1="275" y1="664.10" x2="646" y2="664.10" stroke="#ebebeb" stroke-width="0.8"/>
<line x1="275" y1="676.67" x2="646" y2="676.67" stroke="#ebebeb" stroke-width="0.8"/>
<line x1="275" y1="689.25" x2="646" y2="689.25" stroke="#ebebeb" stroke-width="0.8"/>
<line x1="275" y1="701.82" x2="646" y2="701.82" stroke="#ebebeb" stroke-width="0.8"/>
<line x1="275" y1="714.40" x2="646" y2="714.40" stroke="#ebebeb" stroke-width="0.8"/>
<rect x="291" y="618.70" width="295.0" height="2.78" fill="#d4d4d4"/>
<rect x="291" y="631.27" width="326.4" height="2.78" fill="#d4d4d4"/>
<rect x="291" y="643.85" width="334.0" height="2.78" fill="#d4d4d4"/>
<rect x="291" y="656.42" width="317.4" height="2.78" fill="#d4d4d4"/>
<rect x="291" y="669.00" width="314.6" height="2.78" fill="#d4d4d4"/>
<rect x="291" y="681.57" width="314.4" height="2.78" fill="#d4d4d4"/>
<rect x="291" y="694.15" width="305.0" height="2.78" fill="#d4d4d4"/>
<rect x="291" y="706.72" width="301.4" height="2.78" fill="#d4d4d4"/>
<rect x="291" y="608.90" width="295.0" height="9.8" fill="#ee9a00" stroke="#333" stroke-width="0.6"/>
<line x1="271.5" y1="613.80" x2="275" y2="613.80" stroke="#333" stroke-width="0.8"/>
<text x="270" y="617.00" font-size="9" font-weight="bold" text-anchor="end" fill="#4d4d4d">p__Firmicutes__g__Streptococcus_OTU1534</text>
<rect x="291" y="621.48" width="326.4" height="9.8" fill="#a9a9a9" stroke="#333" stroke-width="0.6"/>
<line x1="271.5" y1="626.38" x2="275" y2="626.38" stroke="#333" stroke-width="0.8"/>
<text x="270" y="629.58" font-size="9" font-weight="bold" text-anchor="end" fill="#4d4d4d">p__Proteobacteria__f__Enterobacteriaceae_OTU1364</text>
<rect x="291" y="634.05" width="338.6" height="9.8" fill="#104e8b" stroke="#333" stroke-width="0.6"/>
<line x1="271.5" y1="638.95" x2="275" y2="638.95" stroke="#333" stroke-width="0.8"/>
<text x="270" y="642.15" font-size="9" font-weight="bold" text-anchor="end" fill="#4d4d4d">p__Firmicutes__g__Clostridium_OTU507</text>
<rect x="291" y="646.62" width="334.0" height="9.8" fill="#b22222" stroke="#333" stroke-width="0.6"/>
<line x1="271.5" y1="651.52" x2="275" y2="651.52" stroke="#333" stroke-width="0.8"/>
<text x="270" y="654.73" font-size="9" font-weight="bold" text-anchor="end" fill="#4d4d4d">p__Firmicutes__g__Lactobacillus_OTU925</text>
<rect x="291" y="659.20" width="317.4" height="9.8" fill="#b22222" stroke="#333" stroke-width="0.6"/>
<line x1="271.5" y1="664.10" x2="275" y2="664.10" stroke="#333" stroke-width="0.8"/>
<text x="270" y="667.30" font-size="9" font-weight="bold" text-anchor="end" fill="#4d4d4d">p__Actinobacteria__g__Corynebacterium_OTU3600</text>
<rect x="291" y="671.77" width="314.6" height="9.8" fill="#b22222" stroke="#333" stroke-width="0.6"/>
<line x1="271.5" y1="676.67" x2="275" y2="676.67" stroke="#333" stroke-width="0.8"/>
<text x="270" y="679.88" font-size="9" font-weight="bold" text-anchor="end" fill="#4d4d4d">p__Firmicutes__g__Lactobacillus_OTU2896</text>
<rect x="291" y="684.35" width="314.4" height="9.8" fill="#b22222" stroke="#333" stroke-width="0.6"/>
<line x1="271.5" y1="689.25" x2="275" y2="689.25" stroke="#333" stroke-width="0.8"/>
<text x="270" y="692.45" font-size="9" font-weight="bold" text-anchor="end" fill="#4d4d4d">p__Firmicutes__g__Lactobacillus_OTU929</text>
<rect x="291" y="696.92" width="305.0" height="9.8" fill="#b22222" stroke="#333" stroke-width="0.6"/>
<line x1="271.5" y1="701.82" x2="275" y2="701.82" stroke="#333" stroke-width="0.8"/>
<text x="270" y="705.02" font-size="9" font-weight="bold" text-anchor="end" fill="#4d4d4d">p__Firmicutes__o__Clostridiales_OTU545</text>
<rect x="291" y="709.50" width="301.4" height="9.8" fill="#b22222" stroke="#333" stroke-width="0.6"/>
<line x1="271.5" y1="714.40" x2="275" y2="714.40" stroke="#333" stroke-width="0.8"/>
<text x="270" y="717.60" font-size="9" font-weight="bold" text-anchor="end" fill="#4d4d4d">p__Actinobacteria__f__Coriobacteriaceae_OTU4491</text>
<rect x="275" y="607.2" width="370.7" height="113.8" fill="none" stroke="#262626" stroke-width="1.7"/>
<line x1="290.6" y1="720.5" x2="290.6" y2="723.6" stroke="#333" stroke-width="0.8"/>
<text x="290.6" y="732.2" font-size="9" font-weight="bold" text-anchor="middle" fill="#555">0</text>
<line x1="386.1" y1="720.5" x2="386.1" y2="723.6" stroke="#333" stroke-width="0.8"/>
<text x="386.1" y="732.2" font-size="9" font-weight="bold" text-anchor="middle" fill="#555">1</text>
<line x1="481.6" y1="720.5" x2="481.6" y2="723.6" stroke="#333" stroke-width="0.8"/>
<text x="481.6" y="732.2" font-size="9" font-weight="bold" text-anchor="middle" fill="#555">2</text>
<line x1="577.1" y1="720.5" x2="577.1" y2="723.6" stroke="#333" stroke-width="0.8"/>
<text x="577.1" y="732.2" font-size="9" font-weight="bold" text-anchor="middle" fill="#555">3</text>
<text x="460.8" y="744.3" font-size="11" font-weight="bold" text-anchor="middle" textLength="99.8" lengthAdjust="spacingAndGlyphs" fill="#111">LDA Score (log 10)</text>
</g>
<use href="#c" transform="translate(0.84,0)" opacity="0.5"/>
<use href="#c" transform="translate(0,0.84)" opacity="0.3333"/>
<use href="#c" transform="translate(0.84,0.84)" opacity="0.25"/>
</svg></body></html>
